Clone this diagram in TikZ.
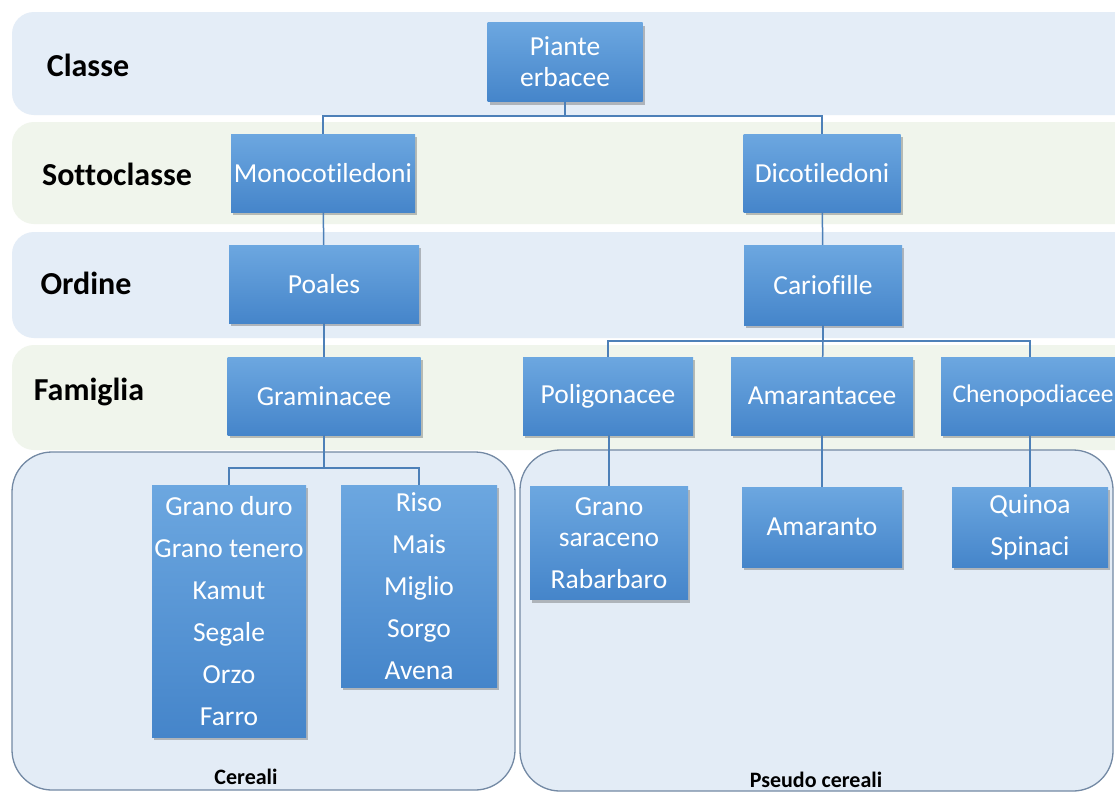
\documentclass[tikz,border=0pt]{standalone}
\usepackage{fontspec}
\setmainfont{Carlito}[Ligatures=NoCommon]
\usetikzlibrary{shadows}
\definecolor{bandblue}{HTML}{E4EDF7}
\definecolor{bandgreen}{HTML}{F0F5EC}
\definecolor{boxtop}{HTML}{6CA7E0}
\definecolor{boxbot}{HTML}{4585CA}
\definecolor{linecol}{HTML}{4D80B8}
\definecolor{groupfill}{HTML}{E3ECF6}
\definecolor{groupline}{HTML}{7389A4}
\tikzset{
  band/.style={rounded corners=22pt, draw=none},
  group/.style={rounded corners=40pt, draw=groupline, line width=1.3pt, fill=groupfill},
  taxon/.style={draw=none, top color=boxtop, bottom color=boxbot, text=white,
    font=\fontsize{27.5}{31}\selectfont, align=center, inner sep=0pt,
    drop shadow={shadow xshift=2pt, shadow yshift=-3pt, opacity=0.35, fill=black!70}},
  listbox/.style={taxon, font=\fontsize{27.5}{42}\selectfont},
  rank/.style={font=\fontsize{32}{36}\selectfont\bfseries, text=black},
  grouplabel/.style={font=\fontsize{22}{26}\selectfont\bfseries, text=black},
  conn/.style={draw=linecol, line width=1.5pt},
}
\begin{document}
\begin{tikzpicture}[x=1pt,y=-1pt]
\clip (0,0) rectangle (1115,793);
\fill[white] (0,0) rectangle (1115,793);
% bands
\fill[band, bandblue]  (12,12)  rectangle (1160,115);
\fill[band, bandgreen] (12,122) rectangle (1160,224);
\fill[band, bandblue]  (12,232) rectangle (1160,338);
\fill[band, bandgreen] (12,345) rectangle (1160,450);
% group boxes
\draw[group] (12,452) rectangle (515,790);
\draw[group] (520,450) rectangle (1113,791);
% rank labels
\node[rank] (lclasse) at (88,65) {Classe};
\node[rank] (lsotto) at (117,174) {Sottoclasse};
\node[rank] (lordine) at (86,283) {Ordine};
\node[rank] (lfam) at (89,392) {Famiglia};
\node[grouplabel] (lcer) at (246,777) {Cereali};
\node[grouplabel] (lpseudo) at (816,780) {Pseudo cereali};
% taxa
\node[taxon, minimum width=155pt, minimum height=79pt] (piante) at (565,62) {Piante\\erbacee};
\node[taxon, minimum width=184pt, minimum height=78pt] (mono) at (323,173) {Monocotiledoni};
\node[taxon, minimum width=157pt, minimum height=78pt] (dico) at (822,173) {Dicotiledoni};
\node[taxon, minimum width=190pt, minimum height=78pt] (poales) at (324,284) {Poales};
\node[taxon, minimum width=158pt, minimum height=80pt] (cario) at (823,285) {Cariofille};
\node[taxon, minimum width=193pt, minimum height=78pt] (gram) at (324,396) {Graminacee};
\node[taxon, minimum width=170pt, minimum height=78pt] (polig) at (608,396) {Poligonacee};
\node[taxon, minimum width=182pt, minimum height=78pt] (amar) at (822,396) {Amarantacee};
\node[taxon, minimum width=184pt, minimum height=78pt, font=\fontsize{25.5}{31}\selectfont] (cheno) at (1033,396) {Chenopodiacee};
\node[listbox, minimum width=154pt, minimum height=252pt] (cer1) at (229,611)
  {Grano duro\\Grano tenero\\Kamut\\Segale\\Orzo\\Farro};
\node[listbox, minimum width=156pt, minimum height=202pt] (cer2) at (419,586)
  {Riso\\Mais\\Miglio\\Sorgo\\Avena};
\node[taxon, minimum width=158pt, minimum height=113pt] (sara) at (609,543)
  {Grano\\saraceno\\[11pt]Rabarbaro};
\node[taxon, minimum width=160pt, minimum height=80pt] (amaranto) at (822,527) {Amaranto};
\node[listbox, minimum width=156pt, minimum height=80pt] (quinoa) at (1030,527) {Quinoa\\Spinaci};
% junctions
\coordinate (j1) at (565,116);
\coordinate (j2) at (823,341);
\coordinate (j3) at (324,468);
% connectors
\draw[conn] (piante) -- (j1);
\draw[conn] (j1) -| (mono);
\draw[conn] (j1) -| (dico);
\draw[conn] (mono) -- (poales);
\draw[conn] (dico) -- (cario);
\draw[conn] (poales) -- (gram);
\draw[conn] (cario) -- (j2);
\draw[conn] (j2) -| (polig);
\draw[conn] (j2) -- (amar);
\draw[conn] (j2) -| (cheno.north -| quinoa.north);
\draw[conn] (gram) -- (j3);
\draw[conn] (j3) -| (cer1);
\draw[conn] (j3) -| (cer2);
\draw[conn] (polig.south -| sara.north) -- (sara);
\draw[conn] (amar) -- (amaranto);
\draw[conn] (cheno.south -| quinoa.north) -- (quinoa);
\end{tikzpicture}
\end{document}
